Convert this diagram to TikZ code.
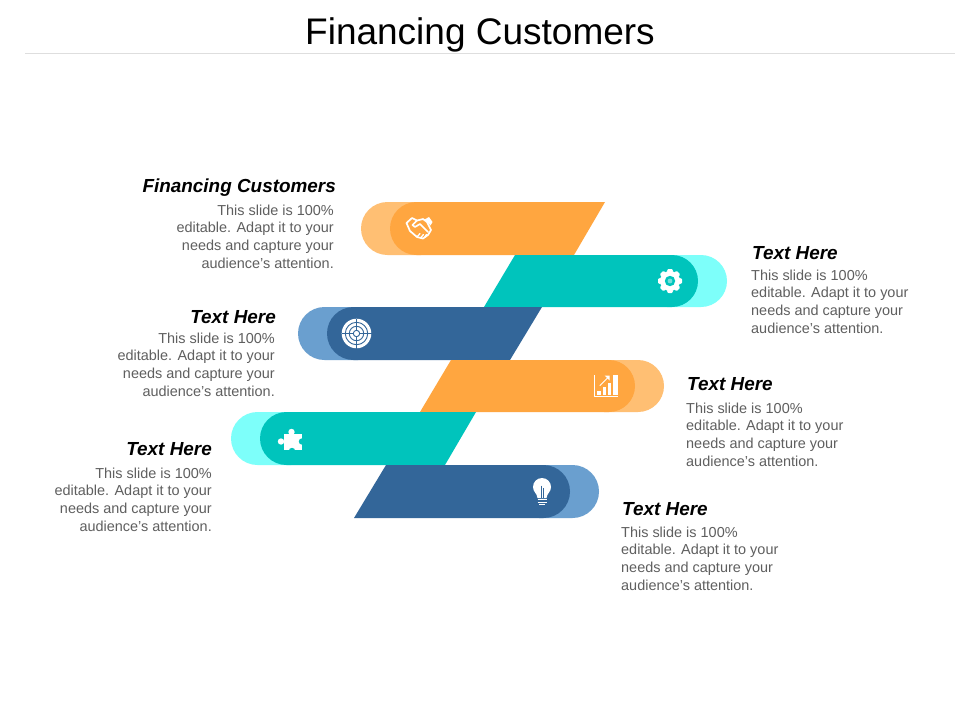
\documentclass[tikz,border=0pt]{standalone}
\usepackage{fontspec}
\setmainfont{Liberation Sans}
\definecolor{orD}{HTML}{FFA640}
\definecolor{orL}{HTML}{FFBF73}
\definecolor{teD}{HTML}{00C4BC}
\definecolor{teL}{HTML}{7DFFFA}
\definecolor{blD}{HTML}{336699}
\definecolor{blL}{HTML}{6A9FCF}
\definecolor{bodygrey}{HTML}{5F5F5F}
\tikzset{
  head/.style={inner sep=0pt,font=\fontsize{18.9}{21}\selectfont\bfseries\itshape,text=black},
  body/.style={inner sep=0pt,font=\fontsize{14.45}{17.7}\selectfont,text=bodygrey},
  bodyl/.style={body,align=left,anchor=west},
  bodyr/.style={body,align=right,anchor=east},
  ic/.style={white,line width=1.1pt,line join=round,line cap=round}
}
\newcommand{\lefttext}{This slide is 100\%\\editable. Adapt it to your\\needs and capture your\\audience's attention.}
\newcommand{\barleft}[8]{% top bottom lightx darkx righttop rightbottom dark light
  \pgfmathsetmacro{\rr}{(#2-#1)/2}
  \fill[#8] (#3+\rr,#1) arc[start angle=90,end angle=270,radius=\rr pt] -- (#3+60,#2) -- (#3+60,#1) -- cycle;
  \fill[#7] (#5,#1) -- (#4+\rr,#1) arc[start angle=90,end angle=270,radius=\rr pt] -- (#6,#2) -- cycle;
}
\newcommand{\barright}[8]{% top bottom lefttop leftbottom darkx lightx dark light
  \pgfmathsetmacro{\rr}{(#2-#1)/2}
  \fill[#8] (#6-\rr,#1) arc[start angle=90,end angle=-90,radius=\rr pt] -- (#6-60,#2) -- (#6-60,#1) -- cycle;
  \fill[#7] (#3,#1) -- (#5-\rr,#1) arc[start angle=90,end angle=-90,radius=\rr pt] -- (#4,#2) -- cycle;
}
\begin{document}
\begin{tikzpicture}[x=1pt,y=-1pt]
\useasboundingbox (0,0) rectangle (960,720);
\fill[white] (0,0) rectangle (960,720);
% title
\node[inner sep=0pt,font=\fontsize{37}{41}\selectfont,text=black] (title) at (480,35) {Financing Customers};
\coordinate (ruleL) at (25,53.5);
\coordinate (ruleR) at (955,53.5);
\draw[line width=0.8pt,color=black!13] (ruleL) -- (ruleR);
% bars
\barleft{202}{255}{361}{390}{605}{574}{orD}{orL}
\barright{255}{307}{515}{484}{698}{727}{teD}{teL}
\barleft{307}{360}{298}{327}{542}{510}{blD}{blL}
\barright{360}{412}{451}{420}{635}{664}{orD}{orL}
\barleft{412}{465}{231}{260}{476}{445}{teD}{teL}
\barright{465}{518}{386}{354}{570}{599}{blD}{blL}
% handshake
\begin{scope}[ic]
  \draw[line width=1.7pt] (406.5,223) -- (412,218) -- (417,220.5) -- (423,219) -- (427,222);
  \draw[line width=1.7pt] (406.5,223) -- (410,231) -- (417,237) -- (423,238.5) -- (428,235) -- (431,230) -- (427,222);
  \draw[line width=1.7pt] (417,220.5) -- (412.5,225) -- (415,227) -- (420,224) -- (428,232);
  \draw[line width=1.3pt] (417,237) -- (420,233.5) (420.5,238) -- (423.5,234.5) (424.5,237.5) -- (426.5,234.5);
  \fill[white,draw=none] (424.5,219.5) -- (429,217) -- (432.5,222) -- (430.5,225.5) -- cycle;
\end{scope}
% gear
\begin{scope}[shift={(670,281)}]
  \foreach \a in {0,45,...,315}
    \fill[white,rotate=\a,rounded corners=0.8pt] (9,-3.2) -- (12,-2.3) -- (12,2.3) -- (9,3.2) -- cycle;
  \fill[white] (0,0) circle[radius=10pt];
  \fill[teD] (0,0) circle[radius=5.2pt];
  \fill[teD!55!white] (0,0) circle[radius=2.4pt];
\end{scope}
% target
\begin{scope}[shift={(356.5,333.5)}]
  \fill[white] (0,0) circle[radius=14.8pt];
  \draw[blD,line width=0.9pt] (0,0) circle[radius=11.2pt] (0,0) circle[radius=7.2pt] (0,0) circle[radius=3.2pt];
  \draw[blD,line width=0.5pt] (-15,0) -- (-3,0) (3,0) -- (15,0) (0,-15) -- (0,-3) (0,3) -- (0,15);
\end{scope}
% chart
\begin{scope}[ic]
  \draw[line width=1pt,line cap=butt] (594.5,375) -- (594.5,396.5) -- (618,396.5);
  \fill[white,draw=none] (597,390.5) rectangle (600.5,395);
  \fill[white,draw=none] (602.5,387) rectangle (606,395);
  \fill[white,draw=none] (607.5,383) rectangle (611,395);
  \fill[white,draw=none] (613,375) rectangle (617.5,395);
  \draw[line width=1pt] (600,385.5) -- (608,377.5);
  \fill[white,draw=none] (609.5,375.5) -- (609.5,380.5) -- (604.5,375.5) -- cycle;
\end{scope}
% puzzle
\begin{scope}
  \fill[white] (284,434) rectangle (301.5,450);
  \fill[white] (291.5,432) circle[radius=3.2pt];
  \fill[white] (281,441.5) circle[radius=3.2pt];
  \fill[teD] (302,441.5) circle[radius=3.2pt];
  \fill[teD] (292,451) circle[radius=3.2pt];
\end{scope}
% bulb
\begin{scope}
  \fill[white] (537.5,498) .. controls (537,493) and (533,492) .. (533,487)
     arc[start angle=180,end angle=0,radius=9pt]
     .. controls (551,492) and (547,493) .. (546.5,498) -- cycle;
  \draw[blD,line width=0.7pt] (541,485.5) -- (541,498) (543,488) -- (543,498);
  \draw[white,line width=1pt] (537.5,499.8) -- (546.5,499.8) (537.5,502) -- (546.5,502) (539,504) -- (545,504);
\end{scope}
% text
\node[head,anchor=east] (h1) at (336,188) {Financing Customers};
\node[bodyr] (b1) at (334,236.5) {\lefttext};
\node[head,anchor=west] (h2) at (752,253.5) {Text Here};
\node[bodyl] (b2) at (751,301.5) {\lefttext};
\node[head,anchor=east] (h3) at (276,317.5) {Text Here};
\node[bodyr] (b3) at (275,364.5) {\lefttext};
\node[head,anchor=west] (h4) at (687,384.5) {Text Here};
\node[bodyl] (b4) at (686,434.5) {\lefttext};
\node[head,anchor=east] (h5) at (212,449.5) {Text Here};
\node[bodyr] (b5) at (212,499.5) {\lefttext};
\node[head,anchor=west] (h6) at (622,509.5) {Text Here};
\node[bodyl] (b6) at (621,558.5) {\lefttext};
\end{tikzpicture}
\end{document}
